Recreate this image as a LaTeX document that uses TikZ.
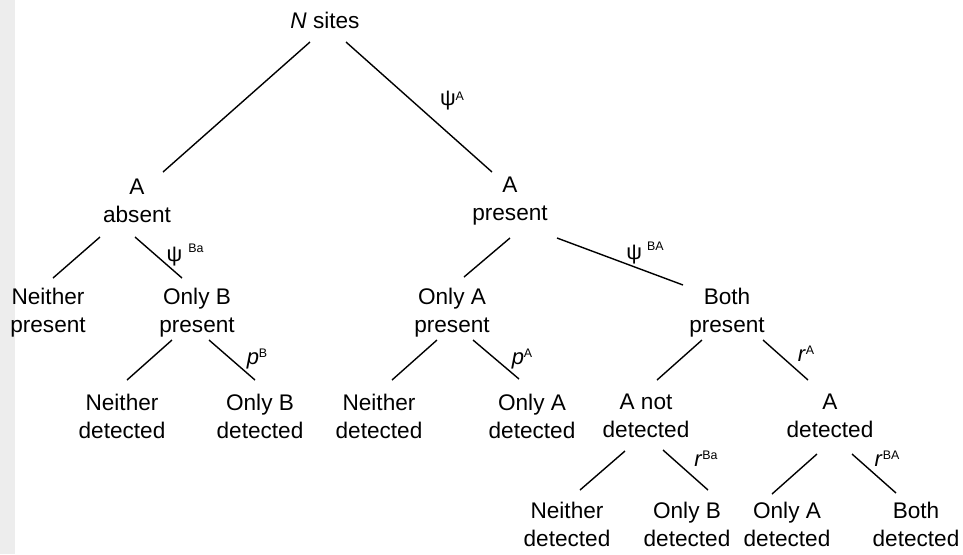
\documentclass[tikz,border=0pt]{standalone}
\usepackage{fontspec}
\setmainfont{Liberation Sans}
\usetikzlibrary{positioning}
\newcommand{\supscr}[3][3.5pt]{#2\raisebox{#1}{\fontsize{6.2}{6.2}\selectfont #3}}

\begin{document}
\begin{tikzpicture}[
  x=0.5pt, y=-0.5pt,
  state/.style={align=center, inner sep=0pt, font=\fontsize{11.3}{14}\selectfont},
  prob/.style={inner sep=0pt, font=\fontsize{11}{13}\selectfont},
  branch/.style={line width=0.7pt}
]
  \useasboundingbox (0,0) rectangle (963,554);
  \fill[black!7] (0,0) rectangle (15,554);

  % occupancy states
  \node[state] (sites) at (325,20) {\textit{N} sites};
  \node[state] (absent) at (137,201) {A\\absent};
  \node[state] (present) at (510,201) {A\\present};
  \node[state] (neitherP) at (48,313) {Neither\\present};
  \node[state] (onlyBP) at (197,313) {Only B\\present};
  \node[state] (onlyAP) at (452,313) {Only A\\present};
  \node[state] (bothP) at (727,313) {Both\\present};

  % detection states
  \node[state] (neitherD1) at (122,416) {Neither\\detected};
  \node[state] (onlyBD1) at (260,416) {Only B\\detected};
  \node[state] (neitherD2) at (379,416) {Neither\\detected};
  \node[state] (onlyAD1) at (532,416) {Only A\\detected};
  \node[state] (notDet) at (646,416) {A not\\detected};
  \node[state] (aDet) at (830,416) {A\\detected};
  \node[state] (neitherD3) at (567,524) {Neither\\detected};
  \node[state] (onlyBD2) at (687,524) {Only B\\detected};
  \node[state] (onlyAD2) at (787,524) {Only A\\detected};
  \node[state] (bothD) at (916,524) {Both\\detected};

  % branches
  \foreach \p/\c/\sx/\sy/\ex/\ey in {
      sites/absent/-15/22/26/-29, sites/present/21/22/-18/-29,
      absent/neitherP/-37/36/5/-35, absent/onlyBP/-2/36/-15/-35,
      present/onlyAP/0/37/12/-36, present/bothP/47/37/-44/-28,
      onlyBP/neitherD1/-25/27/5/-36, onlyBP/onlyBD1/12/27/-5/-36,
      onlyAP/neitherD2/-15/27/13/-36, onlyAP/onlyAD1/21/27/-13/-37,
      bothP/notDet/-25/27/11/-36, bothP/aDet/36/27/-22/-36,
      notDet/neitherD3/-21/35/13/-34, notDet/onlyBD2/17/34/21/-34,
      aDet/onlyAD2/-13/38/-15/-30, aDet/bothD/22/38/-20/-31}
    \draw[branch] ([shift={(\sx,\sy)}]\p.center) -- ([shift={(\ex,\ey)}]\c.center);

  % branch probabilities
  \node[prob] (psiA) at (452,101) {\supscr[2.5pt]{ψ}{A}};
  \node[prob] (psiBa) at (185,255) {\supscr[4.5pt]{ψ\hspace{3pt}}{Ba}};
  \node[prob] (psiBA) at (645,253) {\supscr[4.5pt]{ψ\hspace{2.5pt}}{BA}};
  \node[prob] (pB) at (257,359) {\supscr{\textit{p}}{B}};
  \node[prob] (pA) at (522,359) {\supscr{\textit{p}}{A}};
  \node[prob] (rA) at (806,354) {\supscr{\textit{r}}{A}};
  \node[prob] (rBa) at (706,459) {\supscr{\textit{r}}{Ba}};
  \node[prob] (rBA) at (887,459) {\supscr{\textit{r}}{BA}};
\end{tikzpicture}
\end{document}
